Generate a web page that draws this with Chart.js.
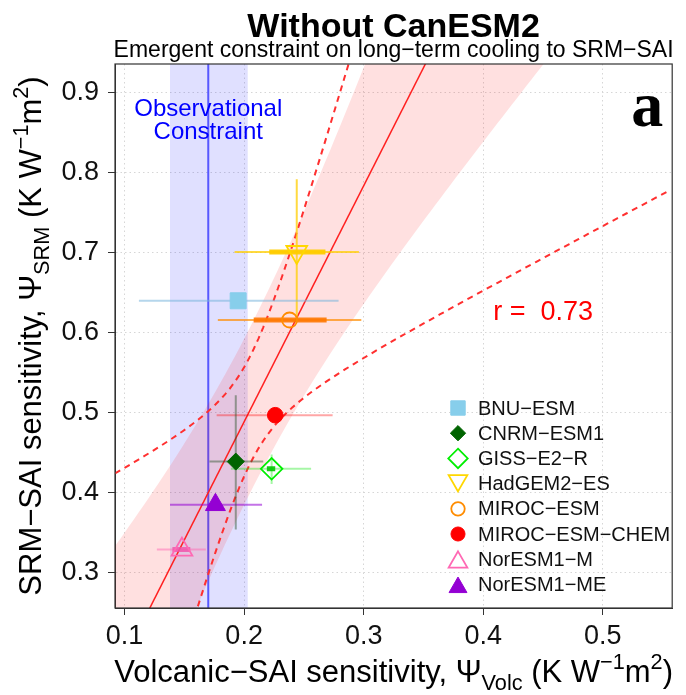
<!DOCTYPE html>
<html>
<head>
<meta charset="utf-8">
<script src="https://cdn.jsdelivr.net/npm/chart.js@4.4.1/dist/chart.umd.min.js"></script>
<style>
  html, body { margin: 0; padding: 0; background: #fff; }
  #wrap { width: 686px; height: 695px; position: relative; }
</style>
</head>
<body>
<div id="wrap"><canvas id="chart"></canvas></div>
<script>
// Models (without CanESM2)
const models = ['BNU−ESM', 'CNRM−ESM1', 'GISS−E2−R', 'HadGEM2−ES', 'MIROC−ESM', 'MIROC−ESM−CHEM', 'NorESM1−M', 'NorESM1−ME'];

// Volcanic-SAI and SRM-SAI sensitivities, K W^-1 m^2
const volcSens = [0.195, 0.193, 0.223, 0.244, 0.238, 0.226, 0.148, 0.176];
const srmSens  = [0.640, 0.439, 0.430, 0.701, 0.616, 0.497, 0.329, 0.385];

// horizontal whiskers (full range)
const volcLow  = [0.112, 0.171, 0.189, 0.192, 0.178, 0.177, 0.127, 0.138];
const volcHigh = [0.279, 0.216, 0.256, 0.296, 0.298, 0.274, 0.168, 0.215];
// inner whiskers, drawn thicker
const volcLowInner  = [null, null, 0.219, 0.221, 0.208, null, 0.140, null];
const volcHighInner = [null, null, 0.226, 0.268, 0.269, null, 0.155, null];
// vertical whiskers
const srmLow  = [null, 0.354, 0.411, 0.619, null, null, null, null];
const srmHigh = [null, 0.522, 0.448, 0.792, null, null, null, null];

// observational constraint on Psi_Volc
const obsVolc = 0.170;
const obsVolcLow = 0.138;
const obsVolcHigh = 0.203;

const xTickVals = [0.1, 0.2, 0.3, 0.4, 0.5];
const yTickVals = [0.3, 0.4, 0.5, 0.6, 0.7, 0.8, 0.9];
const rLabel = 'r =  0.73';

// axis extents
const X_MIN = 0.092, X_MAX = 0.558;
const Y_MIN = 0.256, Y_MAX = 0.936;

// marker styling per model
const modelColors = ['#87CEEB', '#006400', '#00EE00', '#FFD700', '#FF8C00', '#FF0000', '#FF69B4', '#9400D3'];
const barColors   = ['rgba(120,180,220,0.55)', 'rgba(40,80,40,0.45)', 'rgba(0,230,0,0.35)', 'rgba(255,205,0,0.75)',
                     'rgba(255,140,0,0.7)', 'rgba(255,0,0,0.35)', 'rgba(255,105,180,0.5)', 'rgba(148,0,211,0.55)'];
const innerColors = [null, null, 'rgba(0,200,0,0.9)', 'rgba(255,204,0,0.95)', 'rgba(255,120,0,0.9)', null, 'rgba(240,80,170,0.8)', null];
const markerShape = ['rect', 'rectRot', 'rectRot', 'triangle', 'circle', 'circle', 'triangle', 'triangle'];
const markerRot   = [0, 0, 0, 180, 0, 0, 0, 0];
const markerSize  = [11.3, 8.5, 10.8, 12, 7.5, 7.8, 12, 11.5];
const markerFill  = [true, true, false, false, false, true, false, true];

const FONT = "'Liberation Sans', Arial, Helvetica, sans-serif";

// least-squares fit of SRM on Volc sensitivity
const n = volcSens.length;
const meanX = volcSens.reduce((a, b) => a + b, 0) / n;
const meanY = srmSens.reduce((a, b) => a + b, 0) / n;
let sxx = 0, sxy = 0, syy = 0;
for (let i = 0; i < n; i++) {
  const dx = volcSens[i] - meanX, dy = srmSens[i] - meanY;
  sxx += dx * dx; sxy += dx * dy; syy += dy * dy;
}
const slope = sxy / sxx;
const icpt = meanY - slope * meanX;
const resSd = Math.sqrt((syy - sxy * sxy / sxx) / (n - 2));
const T90 = 1.943; // Student t, 6 dof, two-sided 90%

const fitAt = x => icpt + slope * x;
const curveX = [];
for (let x = X_MIN; x <= X_MAX + 1e-9; x += 0.004) curveX.push(x);
// 1-sigma prediction interval (shaded) and 90% confidence interval of the fit (dashed)
const predBand = sign => curveX.map(x => ({ x, y: fitAt(x) + sign * resSd * Math.sqrt(1 + 1 / n + (x - meanX) ** 2 / sxx) }));
const confBand = sign => curveX.map(x => ({ x, y: fitAt(x) + sign * T90 * resSd * Math.sqrt(1 / n + (x - meanX) ** 2 / sxx) }));

function line(data, color, width, extra) {
  return Object.assign({
    data, showLine: true, borderColor: color, borderWidth: width,
    pointRadius: 0, borderCapStyle: 'butt', fill: false
  }, extra || {});
}

const datasets = [];
// shaded prediction band
datasets.push(line(predBand(1), 'rgba(0,0,0,0)', 1, { order: 5 }));
datasets.push(line(predBand(-1), 'rgba(0,0,0,0)', 1, { order: 5, fill: '-1', backgroundColor: 'rgba(255,0,0,0.12)' }));
// regression line and confidence curves
datasets.push(line([{ x: X_MIN, y: fitAt(X_MIN) }, { x: X_MAX, y: fitAt(X_MAX) }], '#FF2020', 1.5, { order: 3 }));
datasets.push(line(confBand(1), '#FF3030', 2, { order: 3, borderDash: [6, 5] }));
datasets.push(line(confBand(-1), '#FF3030', 2, { order: 3, borderDash: [6, 5] }));
// whiskers
models.forEach((m, i) => {
  const y = srmSens[i], x = volcSens[i];
  datasets.push(line([{ x: volcLow[i], y }, { x: volcHigh[i], y }], barColors[i], 2, { order: 2 }));
  if (srmLow[i] !== null) {
    datasets.push(line([{ x, y: srmLow[i] }, { x, y: srmHigh[i] }], barColors[i], 2, { order: 2 }));
  }
  if (volcLowInner[i] !== null) {
    datasets.push(line([{ x: volcLowInner[i], y }, { x: volcHighInner[i], y }], innerColors[i], 5, { order: 1 }));
  }
});
// model markers
datasets.push({
  data: volcSens.map((x, i) => ({ x, y: srmSens[i] })),
  pointStyle: markerShape,
  pointRotation: markerRot,
  pointRadius: markerSize,
  pointBackgroundColor: markerFill.map((f, i) => f ? modelColors[i] : 'rgba(0,0,0,0)'),
  pointBorderColor: modelColors,
  pointBorderWidth: markerFill.map(f => f ? 1 : 1.8),
  order: 0
});

// observational band and line, under everything
const obsPlugin = {
  id: 'obs',
  beforeDatasetsDraw(chart) {
    const { ctx, chartArea: a, scales: { x } } = chart;
    ctx.save();
    ctx.beginPath(); ctx.rect(a.left, a.top, a.width, a.height); ctx.clip();
    const x0 = x.getPixelForValue(obsVolcLow), x1 = x.getPixelForValue(obsVolcHigh);
    ctx.fillStyle = 'rgba(0,0,255,0.12)';
    ctx.fillRect(x0, a.top, x1 - x0, a.height);
    ctx.strokeStyle = 'rgba(30,30,255,0.7)';
    ctx.lineWidth = 2;
    const xo = x.getPixelForValue(obsVolc);
    ctx.beginPath(); ctx.moveTo(xo, a.top); ctx.lineTo(xo, a.bottom); ctx.stroke();
    ctx.restore();
  }
};

// in-plot text
const textPlugin = {
  id: 'plotText',
  afterDatasetsDraw(chart) {
    const { ctx, chartArea: a, scales: { x, y } } = chart;
    ctx.save();
    ctx.textAlign = 'center';
    ctx.textBaseline = 'alphabetic';
    ctx.fillStyle = '#0000FF';
    ctx.font = `24px ${FONT}`;
    const xo = x.getPixelForValue(obsVolc);
    ctx.fillText('Observational', xo, a.top + 52);
    ctx.fillText('Constraint', xo, a.top + 75);
    ctx.fillStyle = '#FF0000';
    ctx.font = `27px ${FONT}`;
    ctx.textBaseline = 'middle';
    ctx.fillText(rLabel, x.getPixelForValue(0.45), y.getPixelForValue(0.625));
    ctx.fillStyle = '#000';
    ctx.font = `bold 64px 'Liberation Serif', 'Times New Roman', serif`;
    ctx.textAlign = 'right';
    ctx.textBaseline = 'alphabetic';
    ctx.fillText('a', a.right - 9, a.top + 62);
    ctx.restore();
  }
};

function drawSymbol(ctx, i, cx, cy, scale) {
  const r = markerSize[i] * scale;
  ctx.beginPath();
  if (markerShape[i] === 'rect') {
    const h = r * Math.SQRT1_2;
    ctx.rect(cx - h, cy - h, 2 * h, 2 * h);
  } else if (markerShape[i] === 'rectRot') {
    ctx.moveTo(cx, cy - r); ctx.lineTo(cx + r, cy); ctx.lineTo(cx, cy + r); ctx.lineTo(cx - r, cy); ctx.closePath();
  } else if (markerShape[i] === 'circle') {
    ctx.arc(cx, cy, r, 0, Math.PI * 2);
  } else {
    const s = markerRot[i] === 180 ? -1 : 1;
    ctx.moveTo(cx, cy - s * r);
    ctx.lineTo(cx + r * Math.sin(Math.PI / 3), cy + s * r / 2);
    ctx.lineTo(cx - r * Math.sin(Math.PI / 3), cy + s * r / 2);
    ctx.closePath();
  }
  if (markerFill[i]) { ctx.fillStyle = modelColors[i]; ctx.fill(); }
  ctx.strokeStyle = modelColors[i];
  ctx.lineWidth = markerFill[i] ? 1 : 1.8;
  ctx.stroke();
}

const legendPlugin = {
  id: 'modelLegend',
  afterDraw(chart) {
    const { ctx, chartArea: a } = chart;
    ctx.save();
    ctx.font = `20px ${FONT}`;
    ctx.textAlign = 'left';
    ctx.textBaseline = 'middle';
    models.forEach((m, i) => {
      const cy = a.top + 344 + i * 25.2;
      const cx = a.left + 343;
      const rowY = markerShape[i] === 'triangle' ? cy + (markerRot[i] === 180 ? -3 : 3) : cy;
      drawSymbol(ctx, i, cx, rowY, 0.9);
      ctx.fillStyle = '#111';
      ctx.fillText(m, a.left + 363, cy + 1);
    });
    ctx.restore();
  }
};

function richWidth(ctx, parts, size) {
  let w = 0;
  parts.forEach(p => { ctx.font = `${size * (p.s || 1)}px ${FONT}`; w += ctx.measureText(p.t).width; });
  return w;
}
function drawRich(ctx, parts, size, cx, baseY) {
  let x = cx - richWidth(ctx, parts, size) / 2;
  ctx.textAlign = 'left';
  ctx.textBaseline = 'alphabetic';
  parts.forEach(p => {
    ctx.font = `${size * (p.s || 1)}px ${FONT}`;
    ctx.fillText(p.t, x, baseY + (p.dy || 0) * size);
    x += ctx.measureText(p.t).width;
  });
}
const xTitle = [{ t: 'Volcanic−SAI sensitivity, Ψ' }, { t: 'Volc', s: 0.7, dy: 0.25 }, { t: ' (K W' },
                { t: '−1', s: 0.7, dy: -0.42 }, { t: 'm' }, { t: '2', s: 0.7, dy: -0.42 }, { t: ')' }];
const yTitle = [{ t: 'SRM−SAI sensitivity, Ψ' }, { t: 'SRM', s: 0.7, dy: 0.25 }, { t: ' (K W' },
                { t: '−1', s: 0.7, dy: -0.42 }, { t: 'm' }, { t: '2', s: 0.7, dy: -0.42 }, { t: ')' }];

const titlesPlugin = {
  id: 'titles',
  afterDraw(chart) {
    const { ctx, chartArea: a } = chart;
    const cx = (a.left + a.right) / 2;
    ctx.save();
    // frame
    ctx.strokeStyle = '#333';
    ctx.lineWidth = 1.2;
    ctx.strokeRect(a.left, a.top, a.width, a.height);
    ctx.fillStyle = '#000';
    ctx.textAlign = 'center';
    ctx.textBaseline = 'alphabetic';
    ctx.font = `bold 34px ${FONT}`;
    ctx.fillText('Without CanESM2', cx, 37);
    ctx.font = `23px ${FONT}`;
    ctx.fillText('Emergent constraint on long−term cooling to SRM−SAI', cx, 57);
    drawRich(ctx, xTitle, 31, cx, 682);
    ctx.translate(41, (a.top + a.bottom) / 2);
    ctx.rotate(-Math.PI / 2);
    drawRich(ctx, yTitle, 31, 0, 0);
    ctx.restore();
  }
};

const tickFont = { family: FONT, size: 27 };

new Chart(document.getElementById('chart'), {
  type: 'scatter',
  data: { datasets },
  options: {
    responsive: true,
    maintainAspectRatio: false,
    animation: false,
    events: [],
    layout: { padding: { top: 64, right: 4, left: 0, bottom: 0 } },
    plugins: { legend: { display: false }, tooltip: { enabled: false } },
    scales: {
      x: {
        type: 'linear', min: X_MIN, max: X_MAX,
        afterBuildTicks: s => { s.ticks = xTickVals.map(v => ({ value: v })); },
        afterFit: s => { s.height = 87; },
        ticks: { font: tickFont, color: '#111', padding: 5, maxRotation: 0, autoSkip: false, callback: v => v.toFixed(1) },
        grid: { color: '#D6D6D6', lineWidth: 1, tickColor: '#333', tickLength: 7, tickWidth: 1 },
        border: { display: true, color: '#333', width: 1, dash: [1.5, 3] }
      },
      y: {
        type: 'linear', min: Y_MIN, max: Y_MAX,
        afterBuildTicks: s => { s.ticks = yTickVals.map(v => ({ value: v })); },
        afterFit: s => { s.width = 115; },
        ticks: { font: tickFont, color: '#111', padding: 9, autoSkip: false, callback: v => v.toFixed(1) },
        grid: { color: '#D6D6D6', lineWidth: 1, tickColor: '#333', tickLength: 7, tickWidth: 1 },
        border: { display: true, color: '#333', width: 1, dash: [1.5, 3] }
      }
    }
  },
  plugins: [obsPlugin, textPlugin, legendPlugin, titlesPlugin]
});
</script>
</body>
</html>
